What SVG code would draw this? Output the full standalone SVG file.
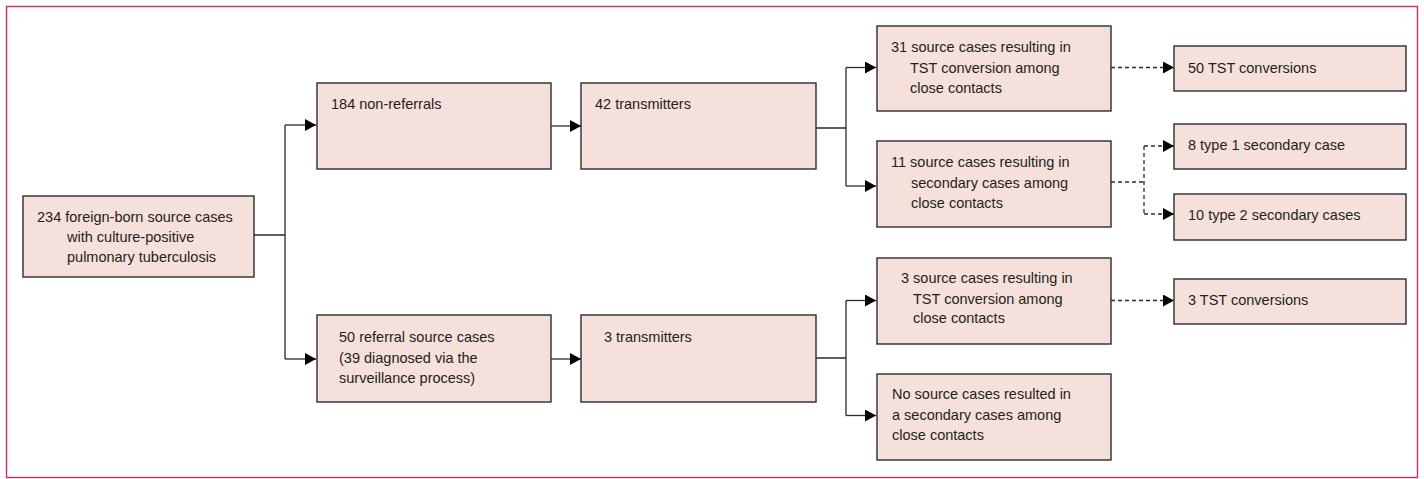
<svg xmlns="http://www.w3.org/2000/svg" width="1424" height="479" viewBox="0 0 1424 479">
<style>
.box{fill:#f5e0dc;stroke:#2b2b2b;stroke-width:1.4}
text{font-family:"Liberation Sans",Arial,sans-serif;font-size:14.5px;fill:#231f20}
.ln{fill:none;stroke:#2b2b2b;stroke-width:1.3}
.dash{stroke-dasharray:4 3}
</style>
<defs>
<marker id="ah" markerUnits="userSpaceOnUse" markerWidth="11" markerHeight="12" refX="11" refY="6" orient="auto">
<path d="M0,0 L11,6 L0,12 z" fill="#000"/>
</marker>
</defs>
<rect x="6.5" y="6.5" width="1411" height="471" fill="none" stroke="#d4285e" stroke-width="1.4"/>
<g id="connectors">
<path class="ln" d="M254,235 H285 M285,125 V359"/>
<path class="ln" d="M285,125 H316" marker-end="url(#ah)"/>
<path class="ln" d="M285,359 H316" marker-end="url(#ah)"/>
<path class="ln" d="M551,126 H581" marker-end="url(#ah)"/>
<path class="ln" d="M551,359 H581" marker-end="url(#ah)"/>
<path class="ln" d="M816,128 H846 M846,67.5 V186"/>
<path class="ln" d="M846,67.5 H876" marker-end="url(#ah)"/>
<path class="ln" d="M846,186 H876" marker-end="url(#ah)"/>
<path class="ln" d="M816,358 H846 M846,300.5 V415.5"/>
<path class="ln" d="M846,300.5 H876" marker-end="url(#ah)"/>
<path class="ln" d="M846,415.5 H876" marker-end="url(#ah)"/>
<path class="ln dash" d="M1111,67.5 H1174" marker-end="url(#ah)"/>
<path class="ln dash" d="M1111,182 H1144 M1144,146 V214"/>
<path class="ln dash" d="M1144,146 H1174" marker-end="url(#ah)"/>
<path class="ln dash" d="M1144,214 H1174" marker-end="url(#ah)"/>
<path class="ln dash" d="M1111,300.5 H1174" marker-end="url(#ah)"/>
</g>
<g id="root">
<rect class="box" x="23" y="196" width="231" height="81"/>
<text x="37" y="222">234 foreign-born source cases</text>
<text x="67" y="242">with culture-positive</text>
<text x="67" y="262">pulmonary tuberculosis</text>
</g>
<g id="nonref">
<rect class="box" x="317" y="83" width="234" height="86"/>
<text x="331" y="109">184 non-referrals</text>
</g>
<g id="trans42">
<rect class="box" x="581" y="83" width="235" height="86"/>
<text x="595" y="109">42 transmitters</text>
</g>
<g id="src31">
<rect class="box" x="877" y="26" width="234" height="85"/>
<text x="891" y="52">31 source cases resulting in</text>
<text x="910" y="73">TST conversion among</text>
<text x="910" y="93">close contacts</text>
</g>
<g id="src11">
<rect class="box" x="877" y="141" width="234" height="86"/>
<text x="891" y="167">11 source cases resulting in</text>
<text x="911" y="188">secondary cases among</text>
<text x="911" y="208">close contacts</text>
</g>
<g id="tst50">
<rect class="box" x="1174" y="46" width="232" height="45"/>
<text x="1188" y="73">50 TST conversions</text>
</g>
<g id="type1">
<rect class="box" x="1174" y="124" width="232" height="45"/>
<text x="1188" y="150">8 type 1 secondary case</text>
</g>
<g id="type2">
<rect class="box" x="1174" y="194" width="232" height="46"/>
<text x="1188" y="220">10 type 2 secondary cases</text>
</g>
<g id="ref">
<rect class="box" x="317" y="315" width="234" height="87"/>
<text x="339" y="342">50 referral source cases</text>
<text x="339" y="363">(39 diagnosed via the</text>
<text x="339" y="383">surveillance process)</text>
</g>
<g id="trans3">
<rect class="box" x="581" y="315" width="235" height="87"/>
<text x="604" y="342">3 transmitters</text>
</g>
<g id="src3">
<rect class="box" x="877" y="258" width="234" height="86"/>
<text x="901" y="283">3 source cases resulting in</text>
<text x="913" y="304">TST conversion among</text>
<text x="913" y="323">close contacts</text>
</g>
<g id="nosrc">
<rect class="box" x="877" y="374" width="234" height="86"/>
<text x="892" y="399">No source cases resulted in</text>
<text x="892" y="420">a secondary cases among</text>
<text x="892" y="440">close contacts</text>
</g>
<g id="tst3">
<rect class="box" x="1174" y="279" width="232" height="45"/>
<text x="1188" y="305">3 TST conversions</text>
</g>
</svg>
